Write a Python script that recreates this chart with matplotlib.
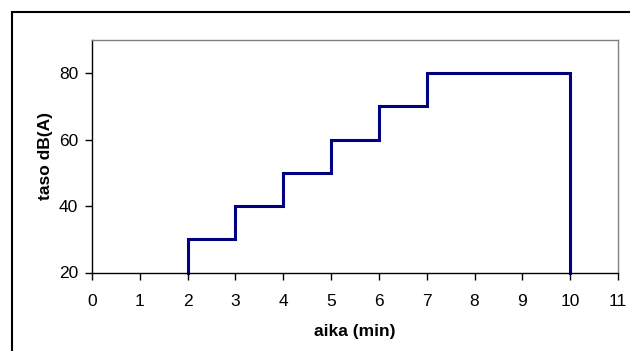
import matplotlib
matplotlib.use("Agg")
import matplotlib.pyplot as plt
from matplotlib.patches import Rectangle

plt.rcParams['font.family'] = ['Liberation Sans', 'DejaVu Sans']

# Step line vertices (time in min, level in dB(A))
time_min = [2, 2, 3, 3, 4, 4, 5, 5, 6, 6, 7, 7, 8, 9, 10, 10]
level_db = [20, 30, 30, 40, 40, 50, 50, 60, 60, 70, 70, 80, 80, 80, 80, 20]
x_ticks = [0, 1, 2, 3, 4, 5, 6, 7, 8, 9, 10, 11]
y_ticks = [20, 40, 60, 80]

W, H = 630, 351
fig = plt.figure(figsize=(W / 100, H / 100), dpi=100)
fig.patch.set_facecolor('white')

# outer chart frame (partially cropped at right/bottom)
fig.patches.append(Rectangle((11.5 / W, -0.1), 1.2, (1 - 11.5 / H) + 0.1,
                             transform=fig.transFigure, fill=False,
                             edgecolor='black', linewidth=1.5, zorder=0))

left, right, top, bottom = 92, 618, 40, 272.5
ax = fig.add_axes([left / W, 1 - bottom / H, (right - left) / W, (bottom - top) / H])
ax.plot(time_min, level_db, color='#000080', linewidth=2.2, solid_joinstyle='miter',
        clip_on=False)

ax.set_xlim(0, 11)
ax.set_ylim(20, 90)
ax.set_xticks(x_ticks)
ax.set_yticks(y_ticks)
ax.tick_params(axis='both', direction='out', length=5, width=1, labelsize=12.5,
               colors='black')
ax.tick_params(axis='x', pad=10.5)
ax.tick_params(axis='y', pad=5)
for s in ['top', 'right']:
    ax.spines[s].set_color('#808080')
    ax.spines[s].set_linewidth(1)
for s in ['left', 'bottom']:
    ax.spines[s].set_color('black')
    ax.spines[s].set_linewidth(1)

ax.set_xlabel('aika (min)', fontsize=12.5, fontweight='bold', labelpad=10.5)
ax.set_ylabel('taso dB(A)', fontsize=12.5, fontweight='bold', labelpad=4.5)

fig.savefig('out.png', dpi=100)
